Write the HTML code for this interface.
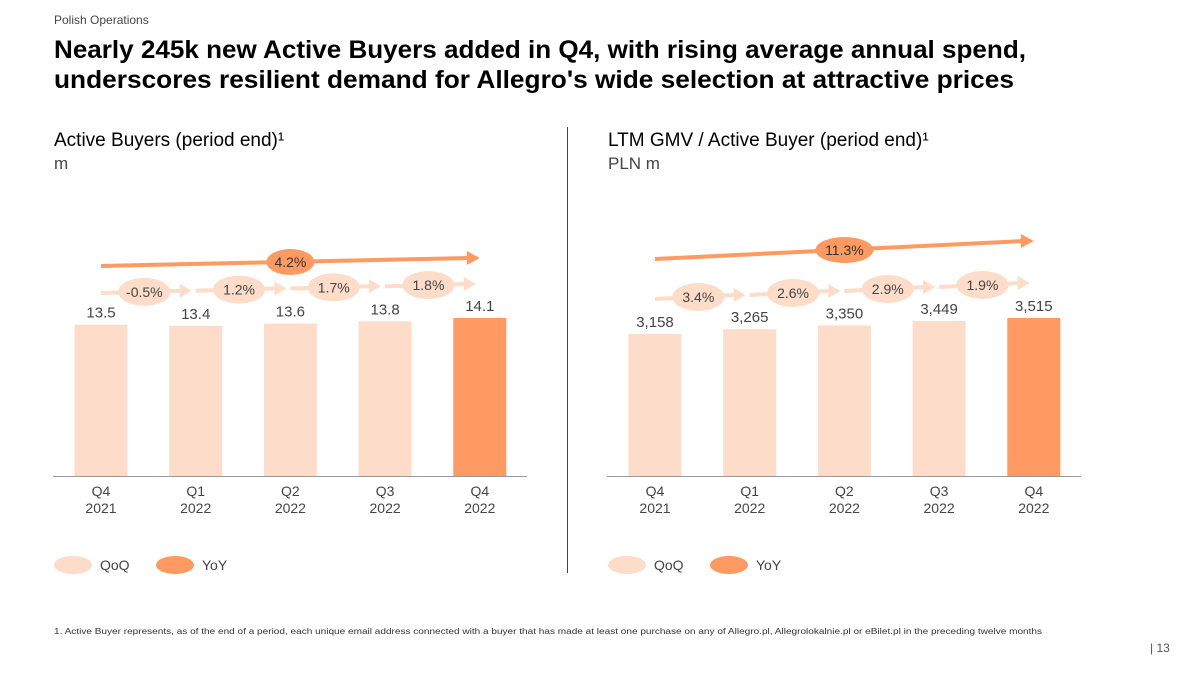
<!DOCTYPE html>
<html><head><meta charset="utf-8"><style>
html,body{margin:0;padding:0;background:#fff}
svg{display:block;font-family:"Liberation Sans",sans-serif}
</style></head><body>
<svg id="s" width="1200" height="675" viewBox="0 0 1200 675" xmlns="http://www.w3.org/2000/svg">
<text x="54" y="24" font-size="12" fill="#444">Polish Operations</text>
<text x="54" y="58" font-size="25" font-weight="bold" fill="#000" textLength="972" lengthAdjust="spacingAndGlyphs">Nearly 245k new Active Buyers added in Q4, with rising average annual spend,</text>
<text x="54" y="88" font-size="25" font-weight="bold" fill="#000" textLength="960" lengthAdjust="spacingAndGlyphs">underscores resilient demand for Allegro's wide selection at attractive prices</text>
<line x1="567.5" y1="127" x2="567.5" y2="573" stroke="#444" stroke-width="1"/>
<text x="54" y="146" font-size="19" fill="#000">Active Buyers (period end)¹</text>
<text x="54" y="169" font-size="17" fill="#444">m</text>
<text x="608" y="146" font-size="19" fill="#000">LTM GMV / Active Buyer (period end)¹</text>
<text x="608" y="169" font-size="17" fill="#444">PLN m</text>
<g id="charts"></g>
<text x="54" y="634" font-size="8" fill="#333" textLength="988" lengthAdjust="spacingAndGlyphs">1. Active Buyer represents, as of the end of a period, each unique email address connected with a buyer that has made at least one purchase on any of Allegro.pl, Allegrolokalnie.pl or eBilet.pl in the preceding twelve months</text>
<text x="1150" y="652" font-size="12" fill="#555">|  13</text>
</svg>
<script>
const categories = ["Q4|2021","Q1|2022","Q2|2022","Q3|2022","Q4|2022"];
const buyersValues = [13.5,13.4,13.6,13.8,14.1];
const buyersLabels = ["13.5","13.4","13.6","13.8","14.1"];
const buyersQoQ = ["-0.5%","1.2%","1.7%","1.8%"];
const buyersYoY = "4.2%";
const gmvValues = [3158,3265,3350,3449,3515];
const gmvLabels = ["3,158","3,265","3,350","3,449","3,515"];
const gmvQoQ = ["3.4%","2.6%","2.9%","1.9%"];
const gmvYoY = "11.3%";

const NS="http://www.w3.org/2000/svg";
const root=document.getElementById('charts');
function mk(tag,attrs,parent){const e=document.createElementNS(NS,tag);for(const k in attrs)e.setAttribute(k,attrs[k]);(parent||root).appendChild(e);return e;}
const LIGHT="#fddcc9", DARK="#ff9a62";

function chart(x0,vals,labels,qoq,yoy,maxV,qoqY0,qoqY1,yoyY0,yoyY1,prefix){
  const base=476, h=158, step=94.7, cx0=x0+48;
  const xs=i=>cx0+i*step;
  const ys=v=>base-v/maxV*h;
  const g=mk('g',{});
  
  
  vals.forEach((v,i)=>{
    const r=mk('rect',{x:xs(i)-26.5,y:ys(v),width:53,height:base-ys(v),fill:i==vals.length-1?DARK:LIGHT},g);
    
    
    const t=mk('text',{x:xs(i),y:ys(v)-7,'font-size':15,fill:'#444','text-anchor':'middle'},g);
    t.textContent=labels[i];
    
    
    const [a,b]=categories[i].split('|');
    const c1=mk('text',{x:xs(i),y:496,'font-size':14,fill:'#444','text-anchor':'middle'},g);
    c1.textContent=a;
    
    
    const c2=mk('text',{x:xs(i),y:513,'font-size':14,fill:'#444','text-anchor':'middle'},g);
    c2.textContent=b;
    
    
  });
  const ax=mk('line',{x1:x0,y1:base+0.5,x2:x0+474,y2:base+0.5,stroke:'#999','stroke-width':1},g);
  
  
  const n=qoq.length;
  for(let i=0;i<n;i++){
    const xa=xs(i), xb=xs(i+1)-4;
    const ya=qoqY0+(qoqY1-qoqY0)*i/n, yb=qoqY0+(qoqY1-qoqY0)*(i+1)/n;
    const l=mk('line',{x1:xa,y1:ya,x2:xb-10,y2:yb,stroke:LIGHT,'stroke-width':4},g);
    
    
    mk('polygon',{points:`${xb},${yb} ${xb-12},${yb-7} ${xb-12},${yb+7}`,fill:LIGHT},g);
    const mx=(xa+xb)/2-2, my=(ya+yb)/2;
    const e=mk('ellipse',{cx:mx,cy:my,rx:26,ry:14,fill:LIGHT},g);
    
    
    const t=mk('text',{x:mx,y:my+5,'font-size':14,fill:'#444','text-anchor':'middle'},g);
    t.textContent=qoq[i];
    
    
  }
  const xa=xs(0), xb=xs(vals.length-1);
  const l=mk('line',{x1:xa,y1:yoyY0,x2:xb-10,y2:yoyY1,stroke:DARK,'stroke-width':4},g);
  
  
  mk('polygon',{points:`${xb},${yoyY1} ${xb-13},${yoyY1-7} ${xb-13},${yoyY1+7}`,fill:DARK},g);
  const mx=xs(2), my=(yoyY0+yoyY1)/2;
  const e=mk('ellipse',{cx:mx,cy:my,rx:yoy.length>4?29:24,ry:13,fill:DARK},g);
  
  
  const t=mk('text',{x:mx,y:my+5,'font-size':14,fill:'#333','text-anchor':'middle'},g);
  t.textContent=yoy;
  
  
  [[LIGHT,'QoQ',0],[DARK,'YoY',102]].forEach(([c,txt,dx])=>{
    const le=mk('ellipse',{cx:x0+20+dx,cy:565,rx:19,ry:9,fill:c},g);
    
    
    const lt=mk('text',{x:x0+47+dx,y:570,'font-size':14,fill:'#444'},g);
    lt.textContent=txt;
    
    
  });
}
chart(53,buyersValues,buyersLabels,buyersQoQ,buyersYoY,14.1,293,284,266,258,'buyers');
chart(607,gmvValues,gmvLabels,gmvQoQ,gmvYoY,3515,299,283,259,241,'gmv');
</script>
</body></html>
